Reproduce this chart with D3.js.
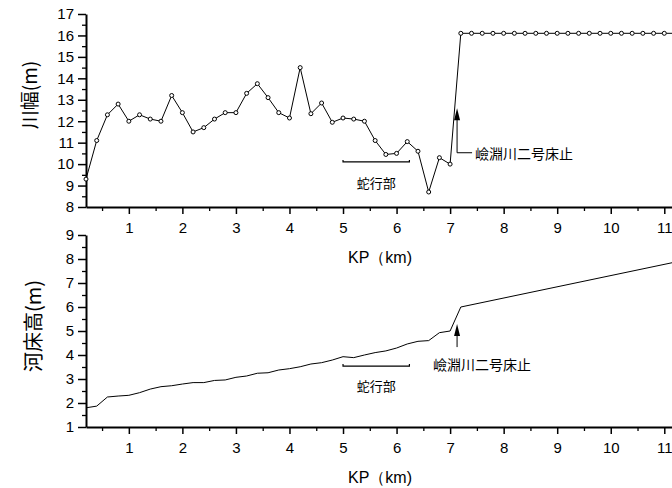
<!DOCTYPE html>
<html>
<head>
  <meta charset="utf-8">
  <script src="https://cdn.jsdelivr.net/npm/d3@7"></script>
  <style>
    body { margin: 0; background: #fff; }
    text { fill: #000; }
    .num { font-family: "Liberation Sans", Arial, sans-serif; font-size: 15px; }
    .jp { font-family: "Noto Sans CJK JP", sans-serif; }
  </style>
</head>
<body>
<script>
  "use strict";
  // KP (km) sampling of river width survey
  var widthKP = [0.2, 0.4, 0.6, 0.8, 1.0, 1.2, 1.4, 1.6, 1.8, 2.0, 2.2, 2.4, 2.6, 2.8, 3.0,
    3.2, 3.4, 3.6, 3.8, 4.0, 4.2, 4.4, 4.6, 4.8, 5.0, 5.2, 5.4, 5.6, 5.8, 6.0, 6.2, 6.4,
    6.6, 6.8, 7.0, 7.2, 7.4, 7.6, 7.8, 8.0, 8.2, 8.4, 8.6, 8.8, 9.0, 9.2, 9.4, 9.6, 9.8,
    10.0, 10.2, 10.4, 10.6, 10.8, 11.0, 11.2];
  // 川幅 (m)
  var widthVal = [9.3, 11.1, 12.3, 12.8, 12.0, 12.3, 12.1, 12.0, 13.2, 12.4, 11.5, 11.7, 12.1, 12.4, 12.4,
    13.3, 13.75, 13.1, 12.4, 12.15, 14.5, 12.35, 12.85, 11.95, 12.15, 12.1, 12.0, 11.1, 10.45, 10.5, 11.05, 10.6,
    8.7, 10.3, 10.0, 16.1, 16.1, 16.1, 16.1, 16.1, 16.1, 16.1, 16.1, 16.1, 16.1, 16.1, 16.1, 16.1, 16.1,
    16.1, 16.1, 16.1, 16.1, 16.1, 16.1, 16.1];

  // 河床高 (m)
  var bedKP = [0.2, 0.4, 0.6, 0.8, 1.0, 1.2, 1.4, 1.6, 1.8, 2.0, 2.2, 2.4, 2.6, 2.8, 3.0,
    3.2, 3.4, 3.6, 3.8, 4.0, 4.2, 4.4, 4.6, 4.8, 5.0, 5.2, 5.4, 5.6, 5.8, 6.0, 6.2, 6.4,
    6.6, 6.8, 7.0, 7.2, 11.2];
  var bedVal = [1.8, 1.87, 2.25, 2.29, 2.32, 2.43, 2.58, 2.68, 2.72, 2.79, 2.85, 2.85, 2.94, 2.96, 3.07,
    3.125, 3.24, 3.26, 3.375, 3.43, 3.51, 3.625, 3.68, 3.79, 3.93, 3.89, 4.0, 4.1, 4.17, 4.29, 4.46, 4.57,
    4.6, 4.93, 5.0, 6.0, 7.87];

  var xTicks = [1, 2, 3, 4, 5, 6, 7, 8, 9, 10, 11];
  var xMinor = [0.5, 1.5, 2.5, 3.5, 4.5, 5.5, 6.5, 7.5, 8.5, 9.5, 10.5];
  var widthTicks = [8, 9, 10, 11, 12, 13, 14, 15, 16, 17];
  var bedTicks = [1, 2, 3, 4, 5, 6, 7, 8, 9];

  var svg = d3.select("body").append("svg")
    .attr("width", 672).attr("height", 488);

  var x = d3.scaleLinear().domain([0.2, 11.2]).range([86, 675]);

  function panel(opts) {
    var g = svg.append("g");
    var y = opts.y;
    var bottom = y.range()[0];

    // x axis: minor then major ticks
    g.append("g").attr("transform", "translate(0," + bottom + ")")
      .call(d3.axisBottom(x).tickValues(xMinor).tickSize(4).tickFormat(""))
      .call(function(a) { a.select(".domain").remove(); a.selectAll("line").attr("stroke-width", 1.3); });
    g.append("g").attr("transform", "translate(0," + bottom + ")")
      .call(d3.axisBottom(x).tickValues(xTicks).tickSize(7).tickPadding(8).tickSizeOuter(0))
      .call(function(a) {
        a.select(".domain").attr("stroke-width", 2);
        a.selectAll("line").attr("stroke-width", 1.5);
        a.selectAll("text").attr("class", "num").attr("font-size", null).attr("font-family", null);
      });

    // y axis
    var minor = opts.yTicks.slice(0, -1).map(function(v) { return v + 0.5; });
    g.append("g").attr("transform", "translate(86,0)")
      .call(d3.axisLeft(y).tickValues(minor).tickSize(4).tickFormat(""))
      .call(function(a) { a.select(".domain").remove(); a.selectAll("line").attr("stroke-width", 1.3); });
    g.append("g").attr("transform", "translate(86,0)")
      .call(d3.axisLeft(y).tickValues(opts.yTicks).tickSize(8).tickPadding(4).tickSizeOuter(0))
      .call(function(a) {
        a.select(".domain").attr("stroke-width", 2);
        a.selectAll("line").attr("stroke-width", 1.5);
        a.selectAll("text").attr("class", "num").attr("font-size", null).attr("font-family", null);
      });

    // axis titles
    g.append("text").attr("class", "num")
      .attr("x", 380).attr("y", bottom + 56)
      .attr("text-anchor", "middle").style("font-size", "16px")
      .text("KP\uFF08km)");
    g.append("text").attr("class", "jp")
      .attr("transform", "translate(" + opts.labelX + "," + opts.labelY + ") rotate(-90)")
      .attr("text-anchor", "middle").attr("dominant-baseline", "central")
      .style("font-size", opts.labelSize + "px")
      .text(opts.label);

    // 蛇行部 bracket
    var by = y(opts.bracketY);
    g.append("path")
      .attr("d", "M" + x(5.0) + "," + (by - 2) + "V" + by + "H" + x(6.24) + "V" + (by - 2))
      .attr("fill", "none").attr("stroke", "#000").attr("stroke-width", 1.2);
    g.append("text").attr("class", "jp")
      .attr("x", x(5.62)).attr("y", y(opts.bracketTextY))
      .attr("text-anchor", "middle").attr("dominant-baseline", "central")
      .style("font-size", "13px").text("蛇行部");

    // 床止 arrow
    var ax = x(7.13), tip = y(opts.arrowTip), end = y(opts.arrowEnd);
    g.append("line").attr("x1", ax).attr("x2", ax).attr("y1", tip + 8).attr("y2", end)
      .attr("stroke", "#000").attr("stroke-width", 1);
    g.append("path")
      .attr("d", "M" + ax + "," + tip + "L" + (ax - 3) + "," + (tip + 12) + "L" + (ax + 3) + "," + (tip + 12) + "Z")
      .attr("fill", "#000");
    if (opts.hook) {
      g.append("line").attr("x1", ax).attr("x2", ax + 15).attr("y1", end).attr("y2", end)
        .attr("stroke", "#000").attr("stroke-width", 1);
    }
    g.append("text").attr("class", "jp")
      .attr("x", opts.noteX).attr("y", opts.noteY)
      .attr("dominant-baseline", "central")
      .style("font-size", "14px").text("嶮淵川二号床止");

    return g;
  }

  // top: 川幅
  var yW = d3.scaleLinear().domain([8, 17]).range([207, 14]);
  var gTop = panel({
    y: yW, yTicks: widthTicks, label: "川幅(m)", labelX: 28, labelY: 95, labelSize: 19,
    bracketY: 10.1, bracketTextY: 9.12, arrowTip: 12.6, arrowEnd: 10.53, hook: true,
    noteX: 475, noteY: 153
  });
  var widthData = widthKP.map(function(k, i) { return [k, widthVal[i]]; });
  gTop.append("path").datum(widthData)
    .attr("fill", "none").attr("stroke", "#000").attr("stroke-width", 1)
    .attr("d", d3.line().x(function(d) { return x(d[0]); }).y(function(d) { return yW(d[1]); }));
  gTop.selectAll("circle").data(widthData).enter().append("circle")
    .attr("cx", function(d) { return x(d[0]); })
    .attr("cy", function(d) { return yW(d[1]); })
    .attr("r", 2).attr("fill", "#fff").attr("stroke", "#000").attr("stroke-width", 1);

  // bottom: 河床高
  var yB = d3.scaleLinear().domain([1, 9]).range([427, 235]);
  var gBot = panel({
    y: yB, yTicks: bedTicks, label: "河床高(m)", labelX: 32, labelY: 326, labelSize: 20,
    bracketY: 3.54, bracketTextY: 2.75, arrowTip: 5.29, arrowEnd: 4.33, hook: false,
    noteX: 433, noteY: 364
  });
  var bedData = bedKP.map(function(k, i) { return [k, bedVal[i]]; });
  gBot.append("path").datum(bedData)
    .attr("fill", "none").attr("stroke", "#000").attr("stroke-width", 1)
    .attr("d", d3.line().x(function(d) { return x(d[0]); }).y(function(d) { return yB(d[1]); }));
</script>
</body>
</html>
